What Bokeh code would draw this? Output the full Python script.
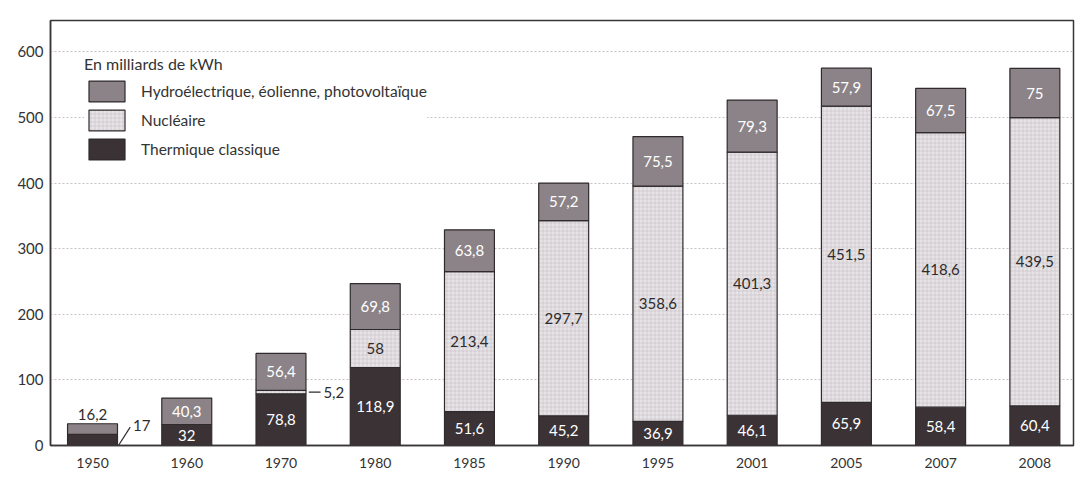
import numpy as np
from bokeh.plotting import figure
from bokeh.models import ColumnDataSource, Range1d, FixedTicker, Legend, LegendItem
from bokeh.core.properties import value
from bokeh.embed import file_html
from bokeh.resources import INLINE

# ---------------- data ----------------
years = ["1950", "1960", "1970", "1980", "1985", "1990", "1995", "2001", "2005", "2007", "2008"]
thermique = [17, 32, 78.8, 118.9, 51.6, 45.2, 36.9, 46.1, 65.9, 58.4, 60.4]
nucleaire = [0, 0, 5.2, 58, 213.4, 297.7, 358.6, 401.3, 451.5, 418.6, 439.5]
hydro = [16.2, 40.3, 56.4, 69.8, 63.8, 57.2, 75.5, 79.3, 57.9, 67.5, 75]
y_ticks = [0, 100, 200, 300, 400, 500, 600]
series_names = ["Hydroélectrique, éolienne, photovoltaïque", "Nucléaire", "Thermique classique"]
legend_title = "En milliards de kWh"

# ---------------- style ----------------
FONT = "Lato"
C_HYDRO = "#8b8387"
C_NUC = "#e7e4e7"
C_THERM = "#3b3236"
C_EDGE = "#2f2a2c"
C_TEXT = "#2e2b2c"
BAR_W = 0.53
SMALL = 20  # segments below this value get their label outside the bar


def fmt(v):
    return f"{v:g}".replace(".", ",")


x = np.arange(len(years))
th = np.array(thermique, dtype=float)
nu = np.array(nucleaire, dtype=float)
hy = np.array(hydro, dtype=float)

src = ColumnDataSource(dict(
    x=x,
    th_top=th,
    nu_bot=th, nu_top=th + nu,
    hy_bot=th + nu, hy_top=th + nu + hy,
))

p = figure(width=1083, height=479, output_backend="svg", toolbar_location=None,
           x_range=Range1d(-0.446, 10.41), y_range=Range1d(0, 648),
           min_border_left=50, min_border_right=10, min_border_top=20, min_border_bottom=34)

r_th = p.vbar(x="x", bottom=0, top="th_top", width=BAR_W, source=src,
              fill_color=C_THERM, line_color=C_EDGE, line_width=1.2)
r_nu = p.vbar(x="x", bottom="nu_bot", top="nu_top", width=BAR_W, source=src,
              fill_color=C_NUC, line_color=C_EDGE, line_width=1.2,
              hatch_pattern="+", hatch_scale=4, hatch_color="#b9b1b6",
              hatch_weight=0.6, hatch_alpha=0.75)
r_hy = p.vbar(x="x", bottom="hy_bot", top="hy_top", width=BAR_W, source=src,
              fill_color=C_HYDRO, line_color=C_EDGE, line_width=1.2)

# ---------------- value labels ----------------
in_x, in_y, in_t, in_c = [], [], [], []
out_x, out_y, out_t = [], [], []
ld_x0, ld_y0, ld_x1, ld_y1 = [], [], [], []
above_x, above_y, above_t = [], [], []
for i in range(len(years)):
    layers = [(0.0, th[i], "white"), (th[i], nu[i], C_TEXT), (th[i] + nu[i], hy[i], "white")]
    for k, (b, v, col) in enumerate(layers):
        if v <= 0:
            continue
        if v >= SMALL:
            in_x.append(x[i]); in_y.append(b + v / 2); in_t.append(fmt(v)); in_c.append(col)
        elif k == 2:
            above_x.append(x[i]); above_y.append(b + v); above_t.append(fmt(v))
        else:
            edge = x[i] + BAR_W / 2
            if k == 0:
                # diagonal leader from the foot of the bar
                ld_x0.append(edge + 0.01); ld_y0.append(b)
                ld_x1.append(edge + 0.135); ld_y1.append(b + v + 11)
                out_x.append(edge + 0.165); out_y.append(b + v + 14); out_t.append(fmt(v))
            else:
                mid = b + v / 2
                ld_x0.append(edge + 0.03); ld_y0.append(mid)
                ld_x1.append(edge + 0.155); ld_y1.append(mid)
                out_x.append(edge + 0.185); out_y.append(mid); out_t.append(fmt(v))

p.text(x=in_x, y=in_y, text=in_t, text_color=in_c, text_align="center", text_baseline="middle",
       text_font=value(FONT), text_font_size="15px")
p.text(x=above_x, y=above_y, text=above_t, text_color=C_TEXT, text_align="center",
       text_baseline="bottom", y_offset=-4, text_font=value(FONT), text_font_size="15px")
p.text(x=out_x, y=out_y, text=out_t, text_color=C_TEXT, text_align="left",
       text_baseline="middle", text_font=value(FONT), text_font_size="15px")
p.segment(x0=ld_x0, y0=ld_y0, x1=ld_x1, y1=ld_y1, line_color=C_TEXT, line_width=1.2)

# ---------------- axes / grid ----------------
p.xaxis.ticker = FixedTicker(ticks=list(x))
p.xaxis.major_label_overrides = {int(i): years[i] for i in x}
p.yaxis.ticker = FixedTicker(ticks=y_ticks)
for ax in (p.xaxis, p.yaxis):
    ax.major_tick_line_color = None
    ax.minor_tick_line_color = None
    ax.major_tick_out = 0
    ax.major_tick_in = 0
    ax.minor_tick_out = 0
    ax.minor_tick_in = 0
    ax.axis_line_color = "#3a3536"
    ax.axis_line_width = 1.5
    ax.major_label_text_font = FONT
    ax.major_label_text_color = "#333333"
p.xaxis.major_label_text_font_size = "14px"
p.xaxis.major_label_standoff = 12
p.yaxis.major_label_text_font_size = "15px"
p.yaxis.major_label_standoff = 7

p.xgrid.grid_line_color = None
p.ygrid.ticker = FixedTicker(ticks=y_ticks[1:])
p.ygrid.grid_line_color = "#c9bfc5"
p.ygrid.grid_line_dash = "2 2"
p.ygrid.grid_line_width = 1

p.outline_line_color = "#3a3536"
p.outline_line_width = 1.5
p.background_fill_color = "white"
p.border_fill_color = "white"

# ---------------- legend ----------------
legend = Legend(items=[LegendItem(label=series_names[0], renderers=[r_hy]),
                       LegendItem(label=series_names[1], renderers=[r_nu]),
                       LegendItem(label=series_names[2], renderers=[r_th])],
                title=legend_title, location="top_left")
legend.title_text_font = FONT
legend.title_text_font_size = "16px"
legend.title_text_font_style = "normal"
legend.title_text_color = "#333333"
legend.title_standoff = 5
legend.label_text_font = FONT
legend.label_text_font_size = "15.5px"
legend.label_text_color = "#333333"
legend.glyph_width = 45
legend.glyph_height = 26
legend.label_height = 26
legend.label_standoff = 12
legend.spacing = 3
legend.padding = 10
legend.margin = 34
legend.border_line_color = None
legend.background_fill_color = "white"
legend.background_fill_alpha = 1
p.add_layout(legend)

open("out.html", "w").write(file_html(p, INLINE))
